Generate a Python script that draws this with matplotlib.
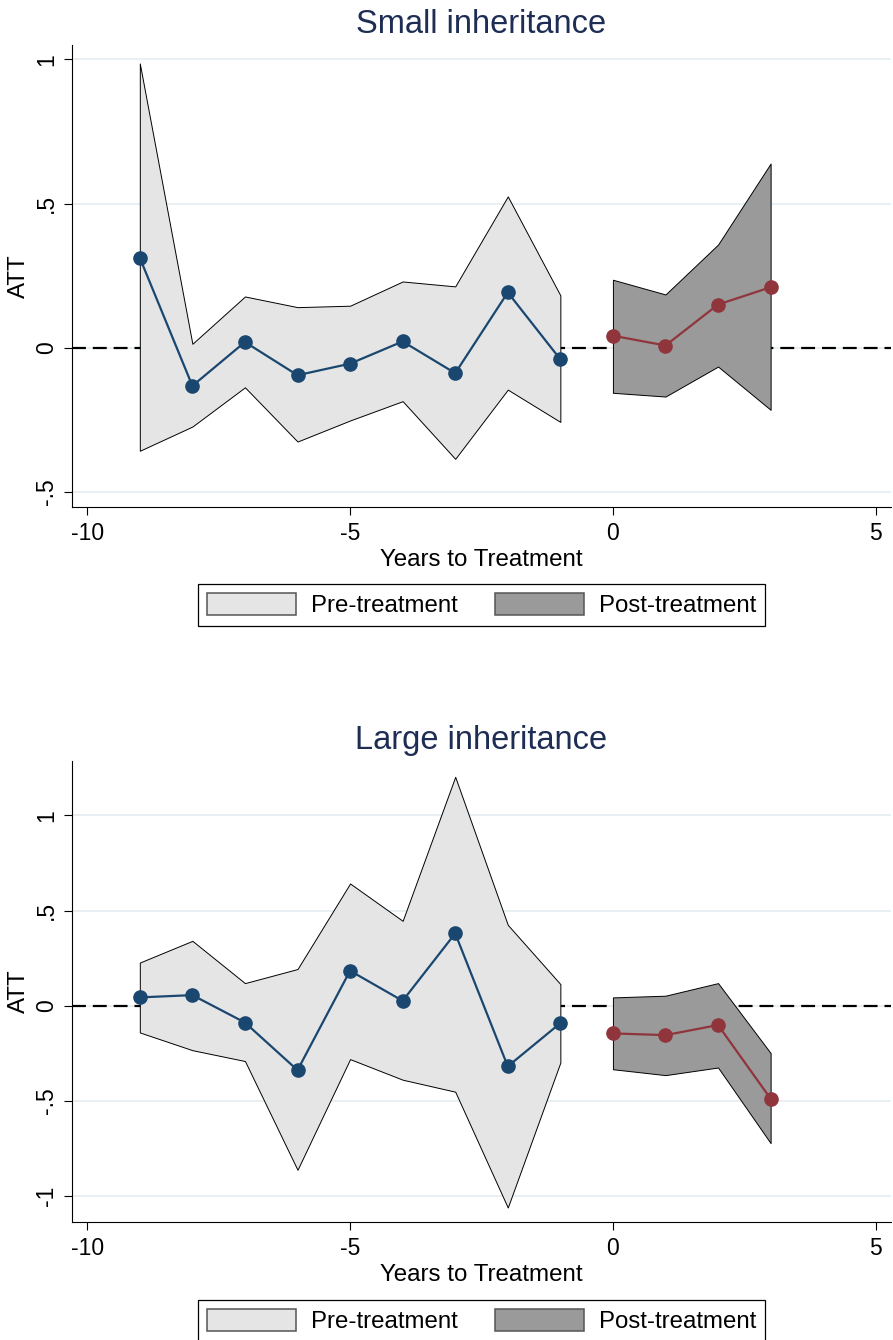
import matplotlib
matplotlib.use('Agg')
import matplotlib.pyplot as plt
from matplotlib.patches import Patch

plt.rcParams['font.family'] = ['Liberation Sans', 'DejaVu Sans']
plt.rcParams['lines.scale_dashes'] = False

# ---------------- data ----------------
years_pre = [-9, -8, -7, -6, -5, -4, -3, -2, -1]
years_post = [0, 1, 2, 3]

small_pre_att = [0.312, -0.132, 0.020, -0.095, -0.055, 0.022, -0.088, 0.192, -0.040]
small_pre_hi = [0.986, 0.014, 0.178, 0.141, 0.146, 0.230, 0.213, 0.525, 0.182]
small_pre_lo = [-0.357, -0.273, -0.137, -0.325, -0.252, -0.185, -0.385, -0.145, -0.257]
small_post_att = [0.042, 0.008, 0.150, 0.210]
small_post_hi = [0.236, 0.185, 0.358, 0.639]
small_post_lo = [-0.156, -0.169, -0.065, -0.215]

large_pre_att = [0.044, 0.056, -0.088, -0.338, 0.184, 0.026, 0.380, -0.318, -0.091]
large_pre_hi = [0.227, 0.341, 0.119, 0.193, 0.642, 0.446, 1.202, 0.425, 0.114]
large_pre_lo = [-0.140, -0.233, -0.290, -0.861, -0.280, -0.388, -0.451, -1.059, -0.298]
large_post_att = [-0.145, -0.154, -0.101, -0.488]
large_post_hi = [0.044, 0.053, 0.119, -0.248]
large_post_lo = [-0.333, -0.364, -0.324, -0.721]

titles = ['Small inheritance', 'Large inheritance']
x_ticks = [-10, -5, 0, 5]
x_ticklabels = ['-10', '-5', '0', '5']
y_ticks_small = [-0.5, 0, 0.5, 1]
y_ticklabels_small = ['-.5', '0', '.5', '1']
y_ticks_large = [-1, -0.5, 0, 0.5, 1]
y_ticklabels_large = ['-1', '-.5', '0', '.5', '1']
legend_labels = ['Pre-treatment', 'Post-treatment']

# ---------------- style ----------------
C_PRE_LINE = '#1a476f'
C_POST_LINE = '#90353b'
C_PRE_FILL = '#e5e5e5'
C_POST_FILL = '#9a9a9a'
C_GRID = '#e4eef2'
C_TITLE = '#1e2d54'

W, H = 893, 1340
fig = plt.figure(figsize=(W / 100, H / 100), dpi=100)
fig.patch.set_facecolor('white')


def px_axes(left, top, right, bottom):
    return fig.add_axes([left / W, 1 - bottom / H, (right - left) / W, (bottom - top) / H])


panels = [
    dict(ax=px_axes(72, 45, 891, 507), ylim=(-0.552, 1.05),
         yt=y_ticks_small, ytl=y_ticklabels_small,
         pre=(small_pre_att, small_pre_hi, small_pre_lo),
         post=(small_post_att, small_post_hi, small_post_lo),
         legend_y=605),
    dict(ax=px_axes(72, 761, 891, 1222), ylim=(-1.135, 1.285),
         yt=y_ticks_large, ytl=y_ticklabels_large,
         pre=(large_pre_att, large_pre_hi, large_pre_lo),
         post=(large_post_att, large_post_hi, large_post_lo),
         legend_y=1321),
]

for i, p in enumerate(panels):
    ax = p['ax']
    ax.set_xlim(-10.29, 5.29)
    ax.set_ylim(*p['ylim'])

    for yv in p['yt']:
        ax.axhline(yv, color=C_GRID, lw=1.2, zorder=0.5)
    ax.axhline(0, color='black', lw=1.6, dashes=(10, 5), zorder=1)

    att, hi, lo = p['pre']
    ax.fill_between(years_pre, lo, hi, facecolor=C_PRE_FILL, edgecolor='black',
                    lw=0.7, zorder=2)
    ax.plot(years_pre, att, color=C_PRE_LINE, lw=1.6, marker='o', markersize=9.5,
            zorder=3)
    att, hi, lo = p['post']
    ax.fill_between(years_post, lo, hi, facecolor=C_POST_FILL, edgecolor='black',
                    lw=0.7, zorder=2)
    ax.plot(years_post, att, color=C_POST_LINE, lw=1.6, marker='o', markersize=9.5,
            zorder=3)

    for s in ['top', 'right']:
        ax.spines[s].set_visible(False)
    for s in ['left', 'bottom']:
        ax.spines[s].set_linewidth(0.8)

    ax.set_xticks(x_ticks)
    ax.set_xticklabels(x_ticklabels)
    ax.set_yticks(p['yt'])
    ax.set_yticklabels(p['ytl'], rotation=90, va='center')
    ax.tick_params(axis='both', direction='out', length=6, width=0.8,
                   labelsize=16.5, colors='black')
    ax.tick_params(axis='x', pad=5)
    ax.tick_params(axis='y', pad=4)

    ax.set_title(titles[i], fontsize=23.5, color=C_TITLE, pad=8.6)
    ax.set_xlabel('Years to Treatment', fontsize=17.4, va='baseline')
    ax.xaxis.set_label_coords(0.5, -0.127)
    ax.set_ylabel('ATT', fontsize=17.4, va='center')
    ax.yaxis.set_label_coords(-0.0647, 0.5)

    handles = [Patch(facecolor=C_PRE_FILL, edgecolor='#555555', lw=1.1),
               Patch(facecolor=C_POST_FILL, edgecolor='#555555', lw=1.1)]
    leg = fig.legend(handles=handles, labels=legend_labels, loc='center',
                     bbox_to_anchor=(481.5 / W, 1 - p['legend_y'] / H),
                     bbox_transform=fig.transFigure, ncol=2, frameon=True,
                     fancybox=False, edgecolor='black', framealpha=1,
                     fontsize=17.3, handlelength=3.7, handleheight=1.0,
                     handletextpad=0.62, columnspacing=1.54, borderpad=0.38,
                     borderaxespad=0)
    leg.get_frame().set_linewidth(0.9)

fig.savefig('out.png', dpi=100, facecolor='white')
